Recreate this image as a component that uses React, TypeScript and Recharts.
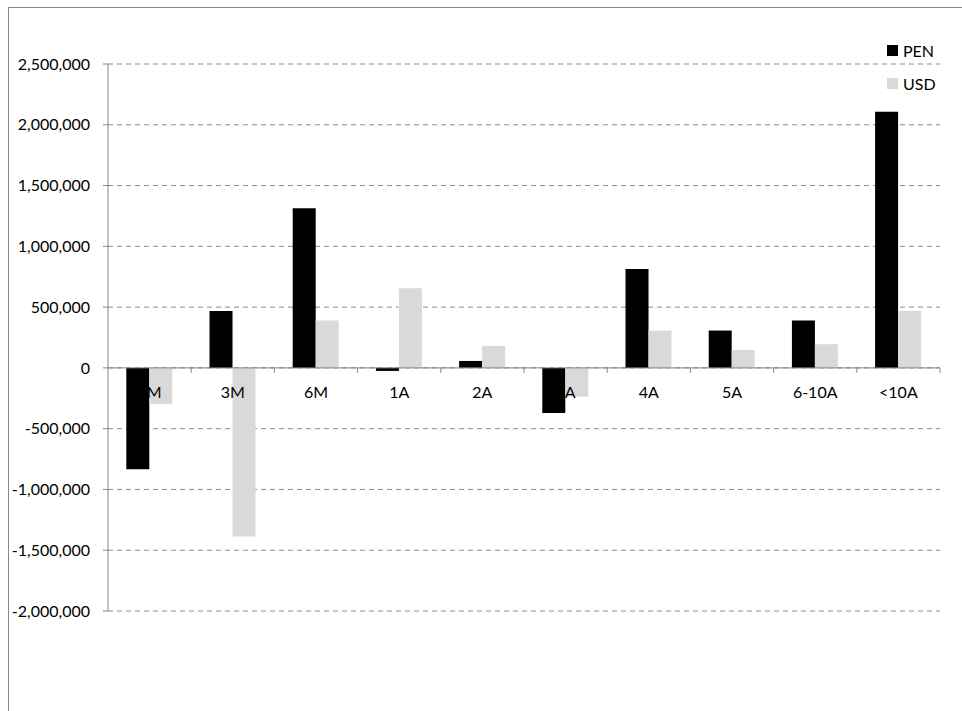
import React from 'react';
import {
  BarChart,
  Bar,
  XAxis,
  YAxis,
  CartesianGrid,
  ReferenceLine,
  Legend,
} from 'recharts';

const categories = ['1M', '3M', '6M', '1A', '2A', '3A', '4A', '5A', '6-10A', '<10A'];
const penValues = [-833000, 469000, 1313000, -25000, 57000, -372000, 814000, 307000, 389000, 2108000];
const usdValues = [-296000, -1387000, 389000, 655000, 181000, -236000, 307000, 148000, 195000, 469000];
const yTicks = [-2000000, -1500000, -1000000, -500000, 0, 500000, 1000000, 1500000, 2000000, 2500000];

const data = categories.map((name, i) => ({ name, PEN: penValues[i], USD: usdValues[i] }));

const FONT = 'Lato, "Open Sans", sans-serif';
const AXIS_GRAY = '#868686';
const CHART_W = 953;
const CHART_H = 703;
const MARGIN = { top: 56, right: 22, bottom: 70, left: 0 };
const Y_AXIS_W = 99;
const X_AXIS_H = 30;
const PLOT_W = CHART_W - MARGIN.left - MARGIN.right - Y_AXIS_W;
const PLOT_H = CHART_H - MARGIN.top - MARGIN.bottom - X_AXIS_H;
const Y_MIN = yTicks[0];
const Y_MAX = yTicks[yTicks.length - 1];

// category labels sit next to the zero line, like Excel does
function ZeroTick(props: any) {
  const { x, y, payload, index } = props;
  const zeroY = y - (PLOT_H * (0 - Y_MIN)) / (Y_MAX - Y_MIN);
  const band = PLOT_W / categories.length;
  const left = x - band / 2;
  const right = x + band / 2;
  return (
    <g>
      {index > 0 && <line x1={left} x2={left} y1={zeroY} y2={zeroY + 5} stroke={AXIS_GRAY} />}
      {index === categories.length - 1 && (
        <line x1={right} x2={right} y1={zeroY} y2={zeroY + 5} stroke={AXIS_GRAY} />
      )}
      <text
        x={x}
        y={zeroY + 24}
        textAnchor="middle"
        dominantBaseline="central"
        fontFamily={FONT}
        fontSize={16}
        fill="#000"
      >
        {payload.value}
      </text>
    </g>
  );
}

function LegendBox(props: any) {
  const { payload = [] } = props;
  return (
    <div style={{ fontFamily: FONT, fontSize: 16, color: '#000' }}>
      {payload.map((entry: any) => (
        <div key={entry.value} style={{ display: 'flex', alignItems: 'center', height: 33 }}>
          <span style={{ width: 11, height: 11, background: entry.color, marginRight: 5 }} />
          <span>{entry.value}</span>
        </div>
      ))}
    </div>
  );
}

export default function App() {
  return (
    <div
      style={{
        position: 'absolute',
        left: 8,
        top: 7,
        width: 954,
        height: 704,
        boxSizing: 'border-box',
        borderLeft: `1px solid ${AXIS_GRAY}`,
        borderTop: `1px solid ${AXIS_GRAY}`,
        background: '#fff',
        overflow: 'hidden',
      }}
    >
      <BarChart
        width={CHART_W}
        height={CHART_H}
        data={data}
        margin={MARGIN}
        barCategoryGap="22%"
        barGap={0}
      >
        <CartesianGrid vertical={false} stroke="#8c8c8c" strokeDasharray="5 4" />
        <XAxis
          dataKey="name"
          height={X_AXIS_H}
          axisLine={false}
          tickLine={false}
          tickSize={0}
          tickMargin={0}
          interval={0}
          tick={<ZeroTick />}
        />
        <YAxis
          width={Y_AXIS_W}
          domain={[Y_MIN, Y_MAX]}
          ticks={yTicks}
          interval={0}
          axisLine={{ stroke: AXIS_GRAY }}
          tickLine={{ stroke: AXIS_GRAY }}
          tickSize={5}
          tickMargin={13}
          tick={{ fill: '#000', fontSize: 16, fontFamily: FONT }}
          tickFormatter={(v: number) => v.toLocaleString('en-US')}
        />
        <Bar dataKey="PEN" fill="#000000" isAnimationActive={false} />
        <Bar dataKey="USD" fill="#d9d9d9" isAnimationActive={false} />
        <ReferenceLine y={0} stroke={AXIS_GRAY} />
        <Legend
          layout="vertical"
          align="center"
          verticalAlign="middle"
          content={<LegendBox />}
          wrapperStyle={{ left: 878, top: 26, width: 70 }}
        />
      </BarChart>
    </div>
  );
}
